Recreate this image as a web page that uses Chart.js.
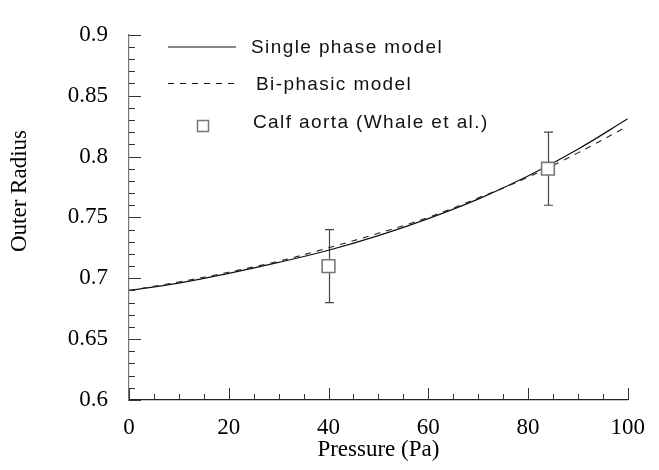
<!DOCTYPE html>
<html>
<head>
<meta charset="utf-8">
<script src="https://cdn.jsdelivr.net/npm/chart.js@4/dist/chart.umd.min.js"></script>
<style>
  html, body { margin: 0; padding: 0; background: #fff; }
  #wrap { width: 659px; height: 470px; }
</style>
</head>
<body>
<div id="wrap"><canvas id="chart"></canvas></div>
<script>
/* ── Data ───────────────────────────────────────────────── */
const pressure     = [0, 10, 20, 30, 40, 50, 60, 70, 80, 90, 100];
const singlePhase  = [0.690, 0.696, 0.704, 0.713, 0.723, 0.735, 0.749, 0.765, 0.784, 0.806, 0.831];
const biPhasic     = [0.690, 0.697, 0.705, 0.714, 0.725, 0.737, 0.750, 0.766, 0.783, 0.803, 0.825];

const aortaP       = [40, 84];
const aortaR       = [0.71, 0.79];
const aortaErr     = [0.03, 0.03];

const xTicks = [0, 20, 40, 60, 80, 100];
const yTicks = [0.6, 0.65, 0.7, 0.75, 0.8, 0.85, 0.9];

const legendLabels = ['Single phase model', 'Bi-phasic model', 'Calf aorta (Whale et al.)'];
const yTitle = 'Outer Radius';

const serif = '"Liberation Serif", "Times New Roman", serif';
const sans  = '"Liberation Sans", Arial, sans-serif';

const toXY = (xs, ys) => xs.map((x, i) => ({ x, y: ys[i] }));

/* ── Inward tick marks (major + minor) ──────────────────── */
const tickPlugin = {
  id: 'inwardTicks',
  afterDatasetsDraw(chart) {
    const { ctx, scales: { x, y }, chartArea: a } = chart;
    ctx.save();
    ctx.strokeStyle = '#333';
    ctx.lineWidth = 1;
    ctx.beginPath();
    for (let v = 0; v <= 100.001; v += 5) {
      const px = Math.round(x.getPixelForValue(v)) + 0.5;
      const len = (Math.round(v) % 20 === 0) ? 12 : 6;
      ctx.moveTo(px, a.bottom);
      ctx.lineTo(px, a.bottom - len);
    }
    for (let k = 0; k <= 30; k++) {
      const v = 0.6 + k * 0.01;
      const py = Math.round(y.getPixelForValue(v)) + 0.5;
      const len = (k % 5 === 0) ? 12 : 6;
      ctx.moveTo(a.left, py);
      ctx.lineTo(a.left + len, py);
    }
    ctx.stroke();
    ctx.restore();
  }
};

/* ── Error bars for the experimental points ─────────────── */
const errorBarPlugin = {
  id: 'errorBars',
  beforeDatasetsDraw(chart) {
    const { ctx, scales: { x, y } } = chart;
    ctx.save();
    ctx.lineWidth = 1.2;
    ctx.strokeStyle = '#444';
    aortaP.forEach((p, i) => {
      const px = Math.round(x.getPixelForValue(p)) + 0.5;
      const top = y.getPixelForValue(aortaR[i] + aortaErr[i]);
      const bot = y.getPixelForValue(aortaR[i] - aortaErr[i]);
      ctx.beginPath();
      ctx.moveTo(px, top); ctx.lineTo(px, bot);
      ctx.moveTo(px - 4.5, top); ctx.lineTo(px + 4.5, top);
      ctx.moveTo(px - 4.5, bot); ctx.lineTo(px + 4.5, bot);
      ctx.stroke();
    });
    ctx.restore();
  }
};

/* ── Legend drawn inside the plot, upper left; y title ──── */
const legendPlugin = {
  id: 'insideLegend',
  afterDraw(chart) {
    const { ctx } = chart;
    ctx.save();
    ctx.font = '19px ' + sans;
    ctx.letterSpacing = '1.4px';
    ctx.fillStyle = '#111';
    ctx.textBaseline = 'middle';

    ctx.strokeStyle = '#111';
    ctx.lineWidth = 1.2;
    ctx.beginPath();
    ctx.moveTo(168, 47); ctx.lineTo(236, 47);
    ctx.stroke();
    ctx.fillText(legendLabels[0], 251, 48);

    ctx.setLineDash([6, 6]);
    ctx.beginPath();
    ctx.moveTo(168, 83.5); ctx.lineTo(236, 83.5);
    ctx.stroke();
    ctx.setLineDash([]);
    ctx.fillText(legendLabels[1], 256, 85);

    ctx.strokeStyle = '#777';
    ctx.lineWidth = 1.5;
    ctx.strokeRect(197.5, 120.5, 11, 11);
    ctx.fillText(legendLabels[2], 253, 123);

    // y-axis title, placed a little above the axis middle as in the original
    ctx.letterSpacing = '0px';
    ctx.font = '23px ' + serif;
    ctx.fillStyle = '#000';
    ctx.translate(20, 191);
    ctx.rotate(-Math.PI / 2);
    ctx.textAlign = 'center';
    ctx.fillText(yTitle, 0, 0);
    ctx.restore();
  }
};

new Chart(document.getElementById('chart'), {
  type: 'scatter',
  data: {
    datasets: [
      {
        label: legendLabels[0],
        data: toXY(pressure, singlePhase),
        showLine: true, borderColor: '#111', borderWidth: 1.2,
        pointRadius: 0, tension: 0.4, order: 3
      },
      {
        label: legendLabels[1],
        data: toXY(pressure, biPhasic),
        showLine: true, borderColor: '#222', borderWidth: 1.1, borderDash: [6, 6],
        pointRadius: 0, tension: 0.4, order: 2
      },
      {
        label: legendLabels[2],
        data: toXY(aortaP, aortaR),
        showLine: false, pointStyle: 'rect', pointRadius: 9, pointHoverRadius: 9,
        backgroundColor: '#fff', borderColor: '#777', borderWidth: 1.6, order: 1
      }
    ]
  },
  options: {
    responsive: true, maintainAspectRatio: false, animation: false,
    layout: { padding: { top: 19, right: 31, left: 0, bottom: 0 } },
    plugins: { legend: { display: false }, tooltip: { enabled: false } },
    scales: {
      x: {
        type: 'linear', min: 0, max: 100,
        afterBuildTicks: s => { s.ticks = xTicks.map(v => ({ value: v })); },
        afterFit: s => { s.height = 70; },
        grid: { display: false, drawTicks: false },
        border: { display: true, color: '#222', width: 1.2 },
        ticks: { color: '#000', padding: 14, maxRotation: 0, font: { family: serif, size: 23 } },
        title: { display: true, text: 'Pressure (Pa)', color: '#000', padding: { top: 0, bottom: 6 },
                 font: { family: serif, size: 23 } }
      },
      y: {
        type: 'linear', min: 0.6, max: 0.9,
        afterBuildTicks: s => { s.ticks = yTicks.map(v => ({ value: v })); },
        afterFit: s => { s.width = 129; },
        grid: { display: false, drawTicks: false },
        border: { display: true, color: '#777', width: 1.2 },
        ticks: { color: '#000', padding: 21, font: { family: serif, size: 23 },
                 callback: v => String(+v.toFixed(2)) },
        title: { display: false }
      }
    }
  },
  plugins: [errorBarPlugin, tickPlugin, legendPlugin]
});
</script>
</body>
</html>
